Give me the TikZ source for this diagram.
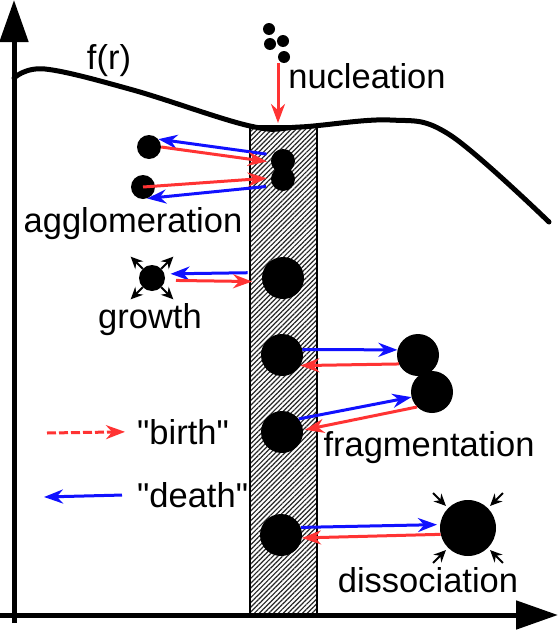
\documentclass[tikz,border=0pt]{standalone}
\usepackage{fontspec}
\setmainfont{Liberation Sans}
\usetikzlibrary{arrows.meta,patterns.meta}
\definecolor{birthred}{RGB}{255,51,51}
\definecolor{deathblue}{RGB}{17,17,255}

\begin{document}
\begin{tikzpicture}[
        x=1pt, y=-1pt,
        axis/.style={line width=5pt, -{Triangle[length=42pt,width=28pt]}},
        curve/.style={line width=5pt, line cap=round, line join=round},
        slab/.style={draw=black, line width=1.5pt, pattern={Lines[angle=45,distance=3.4pt,line width=1.2pt]}, pattern color=black!85},
        dot/.style={circle, fill=black, inner sep=0pt, minimum size=#1},
        dot/.default=42pt,
        birtharrow/.style={draw=birthred, line width=3pt, -{Stealth[length=19pt,width=14pt]}},
        deatharrow/.style={draw=deathblue, line width=3pt, -{Stealth[length=19pt,width=14pt]}},
        push/.style={line width=2pt, -{Stealth[length=12pt,width=11pt]}},
        lab/.style={font=\fontsize{34.5}{40}\selectfont, inner sep=0pt, anchor=base}
    ]
        \useasboundingbox (0,0) rectangle (558,632);

        % size class: hatched strip
        \path[slab] (250,126) rectangle (317,615);

        % distribution f(r)
        \draw[curve] plot[smooth, tension=0.6] coordinates {(14,78) (45,69) (133,90) (250,126) (300,127) (390,120) (450,135) (549,222)};
        \node[lab] (flab) at (109,69) {f(r)};

        % axes
        \draw[axis] (14,623) -- (14,0);
        \draw[axis] (0,615) -- (558,615);

        % nucleation
        \node[dot=12pt] (n1) at (269,29) {};
        \node[dot=12pt] (n2) at (270,44) {};
        \node[dot=12pt] (n3) at (283,41) {};
        \node[dot=12pt] (n4) at (284,57) {};
        \coordinate (surf) at (278,123);
        \draw[birtharrow] ([xshift=-6pt]n4.south) -- (surf);
        \node[lab] (nuc) at (367,88) {nucleation};

        % agglomeration
        \node[dot=24pt] (gl1) at (149,147) {};
        \node[dot=24pt] (gl2) at (143,187) {};
        \node[dot=24pt] (gr1) at (283,161) {};
        \node[dot=24pt] (gr2) at (283,179) {};
        \draw[deatharrow, shorten <=6pt] (gr1.150) -- (gl1.40);
        \draw[birtharrow, shorten >=4pt] (gl1.east) -- (gr1.185);
        \draw[birtharrow, shorten >=4pt] (gl2.center) -- (gr2.175);
        \draw[deatharrow, shorten <=7pt] (gr2.214) -- (gl2.-70);
        \node[lab] (agg) at (133,232) {agglomeration};

        % growth
        \node[dot=26pt] (gdot) at (152,278) {};
        \node[dot] (gbig) at (283,278) {};
        \foreach \a/\dx/\dy in {45/12/-12, 135/-12/-12, 225/-12/12, 315/12/12}
            \draw[push] (gdot.\a) -- ([shift={(\dx,\dy)}]gdot.\a);
        \draw[deatharrow, shorten <=15pt, shorten >=6pt] (gbig.165) -- (gdot.18);
        \draw[birtharrow, shorten <=11pt, shorten >=10pt] (gdot.-10) -- (gbig.190);
        \node[lab] (grow) at (150,328) {growth};

        % fragmentation
        \node[dot] (f1) at (282,355) {};
        \node[dot] (f2) at (282,432) {};
        \node[dot] (fr1) at (418,355) {};
        \node[dot] (fr2) at (432,392) {};
        \draw[deatharrow] (f1.15) -- (fr1.166);
        \draw[birtharrow] (fr1.205) -- (f1.330);
        \draw[deatharrow] (f2.38) -- (fr2.194);
        \draw[birtharrow, shorten >=2pt] (fr2.225) -- (f2.5);
        \node[lab] (frag) at (429,456) {fragmentation};

        % dissociation
        \node[dot] (d1) at (281,535) {};
        \node[dot=56pt] (d2) at (468,528) {};
        \draw[deatharrow, shorten >=3pt] (d1.21) -- (d2.173);
        \draw[birtharrow] (d2.193) -- (d1.-8);
        \foreach \a/\dx/\dy in {135/-15/-15, 45/15/-15, 225/-15/15, 315/15/15}
            \draw[push, shorten >=3pt] ([shift={(\dx,\dy)}]d2.\a) -- (d2.\a);
        \node[lab] (diss) at (428,592) {dissociation};

        % legend
        \node[lab, anchor=base west] (lbirth) at (137,444) {\textquotedbl birth\textquotedbl};
        \node[lab, anchor=base west] (ldeath) at (137,507) {\textquotedbl death\textquotedbl};
        \coordinate (lb) at (47,433);
        \coordinate (ld) at (44,497);
        \draw[birtharrow, dash pattern=on 9pt off 3pt, shorten >=12pt] (lb) -- (lbirth.west);
        \draw[deatharrow, shorten <=15pt] (ldeath.west) -- (ld);

    \end{tikzpicture}
\end{document}
